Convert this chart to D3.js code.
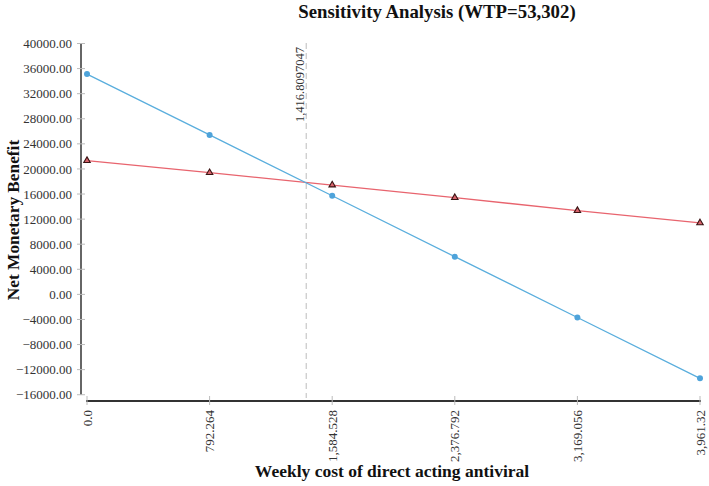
<!DOCTYPE html>
<html><head><meta charset="utf-8">
<script src="https://cdn.jsdelivr.net/npm/d3@7"></script>
<style>body{margin:0;background:#fff}svg{display:block}text{font-family:"Liberation Serif","Times New Roman",serif}</style>
</head><body>
<svg id="c" width="709" height="486"></svg>
<script>
const xValues = [0, 792.264, 1584.528, 2376.792, 3169.056, 3961.32];
const xTickLabels = ["0.0", "792.264", "1,584.528", "2,376.792", "3,169.056", "3,961.32"];
const blueSeries = [35130, 25420, 15720, 6010, -3690, -13390];
const redSeries = [21330, 19400, 17430, 15420, 13360, 11390];
const yTicks = [-16000, -12000, -8000, -4000, 0, 4000, 8000, 12000, 16000, 20000, 24000, 28000, 32000, 36000, 40000];
const threshold = 1416.8097047;
const thresholdLabel = "1,416.8097047";
const title = "Sensitivity Analysis (WTP=53,302)";
const xTitle = "Weekly cost of direct acting antiviral";
const yTitle = "Net Monetary Benefit";

const svg = d3.select("#c");
const x = d3.scaleLinear().domain([0, 3961.32]).range([87, 700]);
const y = d3.scaleLinear().domain([-17000, 40000]).range([401, 43.5]);

// title
svg.append("text").attr("x", 437).attr("y", 18).attr("text-anchor", "middle")
  .attr("font-size", 18.8).attr("font-weight", "bold").attr("fill", "#111").text(title);

// threshold dashed line
svg.append("line").attr("x1", x(threshold)).attr("x2", x(threshold))
  .attr("y1", 43).attr("y2", 398).attr("stroke", "#c8c8c8").attr("stroke-width", 1.2)
  .attr("stroke-dasharray", "6,4");
svg.append("text").attr("transform", `translate(${x(threshold) - 2},47) rotate(-90)`)
  .attr("text-anchor", "end").attr("font-size", 12.5).attr("fill", "#333").text(thresholdLabel);

// y axis
const yAxis = svg.append("g").attr("transform", "translate(81,0)");
yAxis.append("line").attr("y1", y(40000)).attr("y2", y(-16000)).attr("stroke", "#333").attr("stroke-width", 1.5);
yAxis.selectAll("g.t").data(yTicks).join("g").attr("class", "t")
  .attr("transform", d => `translate(0,${y(d)})`)
  .each(function(d) {
    const g = d3.select(this);
    g.append("line").attr("x1", -4).attr("x2", 4).attr("stroke", "#bbb");
    g.append("text").attr("x", -9).attr("dy", "0.35em").attr("text-anchor", "end")
      .attr("font-size", 13).attr("fill", "#333").text(d3.format(".2f")(d));
  });

// x axis
const xAxis = svg.append("g").attr("transform", "translate(0,401)");
xAxis.append("line").attr("x1", 86).attr("x2", 701).attr("stroke", "#333").attr("stroke-width", 2);
xAxis.selectAll("g.t").data(xValues).join("g").attr("class", "t")
  .attr("transform", d => `translate(${x(d)},0)`)
  .each(function(d, i) {
    const g = d3.select(this);
    g.append("line").attr("y1", -5).attr("y2", 4).attr("stroke", "#bbb");
    g.append("text").attr("transform", "translate(0,9) rotate(-90)").attr("dy", "0.35em")
      .attr("text-anchor", "end").attr("font-size", 13).attr("fill", "#333").text(xTickLabels[i]);
  });

// axis titles
svg.append("text").attr("x", 392).attr("y", 477).attr("text-anchor", "middle")
  .attr("font-size", 17.5).attr("font-weight", "bold").attr("fill", "#111").text(xTitle);
svg.append("text").attr("transform", "translate(19,220) rotate(-90)").attr("text-anchor", "middle")
  .attr("font-size", 17.3).attr("font-weight", "bold").attr("fill", "#111").text(yTitle);

const line = d3.line().x((d, i) => x(xValues[i])).y(d => y(d));

svg.append("path").datum(redSeries).attr("d", line).attr("fill", "none")
  .attr("stroke", "#e8646e").attr("stroke-width", 1.3);
svg.append("path").datum(blueSeries).attr("d", line).attr("fill", "none")
  .attr("stroke", "#5aaedd").attr("stroke-width", 1.3);

svg.selectAll("circle.b").data(blueSeries).join("circle").attr("class", "b")
  .attr("cx", (d, i) => x(xValues[i])).attr("cy", d => y(d)).attr("r", 3)
  .attr("fill", "#4ea3da");

const tri = d3.symbol().type(d3.symbolTriangle).size(18);
svg.selectAll("path.r").data(redSeries).join("path").attr("class", "r")
  .attr("d", tri).attr("transform", (d, i) => `translate(${x(xValues[i])},${y(d)})`)
  .attr("fill", "#d9646c").attr("stroke", "#3a1414").attr("stroke-width", 1.1);
</script>
</body></html>
